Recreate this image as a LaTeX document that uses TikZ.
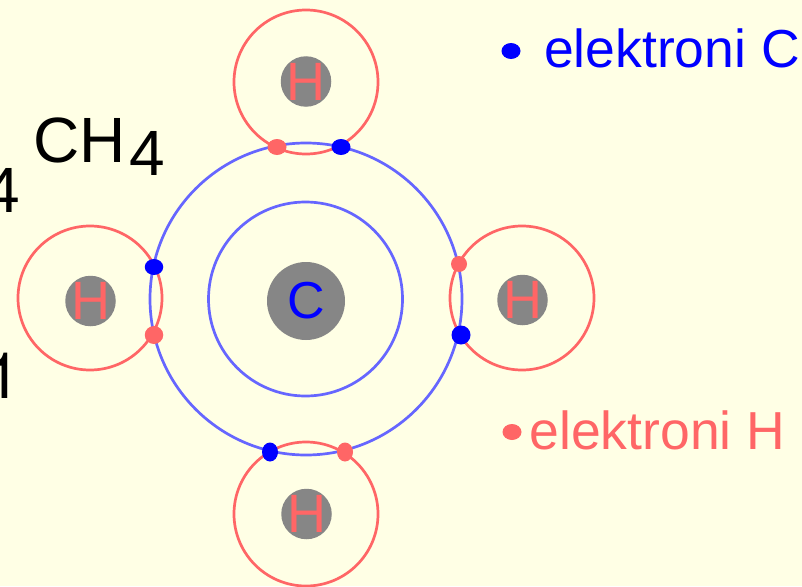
\documentclass[tikz,border=0pt]{standalone}
\usepackage{fontspec}
\setmainfont{Liberation Sans}
\newfontfamily\heros{TeX Gyre Heros}
\usetikzlibrary{shapes.geometric}
\definecolor{bg}{HTML}{FFFFE5}
\definecolor{salmon}{HTML}{FF6666}
\definecolor{peri}{HTML}{6666FF}
\definecolor{elblue}{HTML}{0000FF}
\definecolor{nucgrey}{HTML}{868686}
\tikzset{
  horbit/.style={circle,draw=salmon,line width=2.7pt,minimum size=144pt,inner sep=0pt,outer sep=0pt},
  corbit/.style={circle,draw=peri,line width=2.7pt,inner sep=0pt,outer sep=0pt},
  hnuc/.style={circle,fill=nucgrey,minimum size=50.5pt,inner sep=0pt,outer sep=0pt},
  hsym/.style={inner sep=0pt,outer sep=0pt,text=salmon,font=\fontsize{54}{54}\selectfont},
  cnuc/.style={circle,fill=nucgrey,minimum size=78pt,inner sep=0pt,outer sep=0pt,text=elblue,font=\fontsize{52}{52}\selectfont},
  el/.style n args={3}{ellipse,fill=#1,minimum width=#2,minimum height=#3,inner sep=0pt,outer sep=0pt},
  label/.style={anchor=base west,inner sep=0pt,outer sep=0pt},
}
\begin{document}
\begin{tikzpicture}[x=1pt,y=-1pt]
\fill[bg] (0,0) rectangle (802,586);
\useasboundingbox (0,0) rectangle (802,586);
% carbon
\node[corbit,minimum size=312pt] (cout) at (306,299) {};
\node[corbit,minimum size=194pt] (cin) at (305.5,299) {};
\node[cnuc] (cn) at (306,301) {C};
% hydrogen orbits
\node[horbit] (ht) at (306,82) {};
\node[horbit] (hl) at (90,298) {};
\node[horbit] (hr) at (522,298) {};
\node[horbit] (hb) at (306,514) {};
% hydrogen nuclei
\node[hnuc] (nt) at (306,81.5) {};
\node[hnuc] (nl) at (90.5,301) {};
\node[hnuc] (nr) at (522.5,300) {};
\node[hnuc] (nb) at (306.5,514) {};
\node[hsym] (st) at (nt) {H};
\node[hsym] (sl) at (nl) {H};
\node[hsym] (sr) at (nr) {H};
\node[hsym] (sb) at (nb) {H};
% shared electrons
\node[el={salmon}{19pt}{16pt}] (e1) at (277,147) {};
\node[el={elblue}{19pt}{16pt}] (e2) at (341,147) {};
\node[el={elblue}{18.5pt}{16pt}] (e3) at (154,267) {};
\node[el={salmon}{18.5pt}{18pt}] (e4) at (154,335) {};
\node[el={salmon}{16pt}{16pt}] (e5) at (459,264) {};
\node[el={elblue}{19pt}{19pt}] (e6) at (461,335) {};
\node[el={elblue}{16pt}{19pt}] (e7) at (270,452) {};
\node[el={salmon}{16pt}{19pt}] (e8) at (345,452) {};
% legend
\node[el={elblue}{19pt}{16pt}] (lc) at (511,51) {};
\node[label,text=elblue,font=\fontsize{53.5}{53.5}\selectfont] (tc) at (544,67) {elektroni C};
\node[el={salmon}{19pt}{16pt}] (lh) at (512,432) {};
\node[label,text=salmon,font=\fontsize{53.5}{53.5}\selectfont] (th) at (529.5,449) {elektroni H};
% formula
\node[label,font=\fontsize{64}{64}\selectfont] (ch) at (33.5,162) {CH};
\node[label,font=\fontsize{64}{64}\selectfont] (four) at (129,175) {4};
\node[label,font=\fontsize{64}{64}\selectfont] (p4) at (-15,212) {4};
\node[label,font=\fontsize{64}{64}\heros\selectfont] (p1) at (-14,398) {1};
\end{tikzpicture}
\end{document}
